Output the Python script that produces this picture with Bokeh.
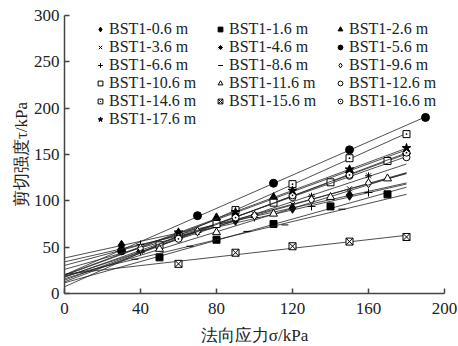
import numpy as np
from bokeh.plotting import figure
from bokeh.models import Range1d, Legend, LegendItem, FixedTicker
from bokeh.embed import file_html
from bokeh.resources import INLINE

# ---- data ----
labels = ["BST1-0.6 m", "BST1-1.6 m", "BST1-2.6 m", "BST1-3.6 m", "BST1-4.6 m", "BST1-5.6 m",
          "BST1-6.6 m", "BST1-8.6 m", "BST1-9.6 m", "BST1-10.6 m", "BST1-11.6 m", "BST1-12.6 m",
          "BST1-14.6 m", "BST1-15.6 m", "BST1-16.6 m", "BST1-17.6 m"]

sigma_06 = [30, 60, 90, 120, 150];   tau_06 = [52, 65, 79, 92, 106]
sigma_16 = [50, 80, 110, 140, 170];  tau_16 = [39, 58, 75, 94, 107]
sigma_26 = [40, 80, 110, 150, 180];  tau_26 = [47, 82, 104, 133, 153]
sigma_36 = [30, 60, 90, 120, 150];   tau_36 = [47, 63, 80, 96, 113]
sigma_46 = [40, 70, 100, 130, 160];  tau_46 = [45, 66, 85, 105, 127]
sigma_56 = [30, 70, 110, 150, 190];  tau_56 = [46, 84, 119, 155, 190]
sigma_66 = [40, 70, 100, 130, 160];  tau_66 = [53, 66, 82, 94, 109]
sigma_86 = [37, 66, 96, 116, 146];   tau_86 = [37, 51, 67, 74, 91]
sigma_96 = [40, 70, 100, 130, 160];  tau_96 = [49, 67, 84, 101, 119]
sigma_106 = [50, 80, 110, 140, 170]; tau_106 = [52, 75, 98, 120, 143]
sigma_116 = [50, 80, 110, 140, 170]; tau_116 = [48, 66, 86, 104, 124]
sigma_126 = [60, 90, 120, 150, 180]; tau_126 = [60, 84, 104, 127, 147]
sigma_146 = [60, 90, 120, 150, 180]; tau_146 = [62, 90, 118, 146, 172]
sigma_156 = [60, 90, 120, 150, 180]; tau_156 = [32, 44, 51, 56, 61]
sigma_166 = [60, 90, 120, 150, 180]; tau_166 = [59, 82, 106, 128, 152]
sigma_176 = [60, 90, 120, 150, 180]; tau_176 = [66, 88, 111, 134, 157]

sigmas = [sigma_06, sigma_16, sigma_26, sigma_36, sigma_46, sigma_56, sigma_66, sigma_86,
          sigma_96, sigma_106, sigma_116, sigma_126, sigma_146, sigma_156, sigma_166, sigma_176]
taus = [tau_06, tau_16, tau_26, tau_36, tau_46, tau_56, tau_66, tau_86,
        tau_96, tau_106, tau_116, tau_126, tau_146, tau_156, tau_166, tau_176]

x_ticks = [0, 40, 80, 120, 160, 200]
y_ticks = [0, 50, 100, 150, 200, 250, 300]

# ---- styles ----
# (marker, fill, size)
styles = [("diamond", "black", 10), ("square", "black", 7), ("triangle", "black", 8),
          ("x", "black", 7), ("asterisk", "black", 7), ("circle", "black", 8),
          ("cross", "black", 8), ("dash", "black", 7), ("diamond", "white", 9),
          ("square", "white", 7), ("triangle", "white", 8), ("circle", "white", 7),
          ("square_dot", "white", 7), ("square_x", "white", 7), ("circle_dot", "white", 7),
          ("star", "black", 9)]

SERIF = "'Liberation Serif', 'Times New Roman', serif"

p = figure(frame_width=380, frame_height=278, output_backend="svg", toolbar_location=None,
           x_range=Range1d(0, 200), y_range=Range1d(0, 300),
           min_border_left=64, min_border_right=14, min_border_top=15, min_border_bottom=53)
p.outline_line_color = None
p.xgrid.visible = False
p.ygrid.visible = False
p.background_fill_color = "white"
p.border_fill_color = "white"

items = []
for lab, s, t, (mk, fill, sz) in zip(labels, sigmas, taus, styles):
    s_arr = np.array(s, dtype=float)
    t_arr = np.array(t, dtype=float)
    b, a = np.polyfit(s_arr, t_arr, 1)
    x_end = max(180.0, s_arr.max())
    xs = np.array([0.0, x_end])
    p.line(xs, a + b * xs, line_color="#222222", line_width=0.8)
    r = p.scatter(s_arr, t_arr, marker=mk, size=sz, fill_color=fill, line_color="black", line_width=1)
    items.append(LegendItem(label=lab, renderers=[r]))

legend = Legend(items=items, orientation="horizontal", ncols=3, location=(30, 165),
                label_text_font=SERIF, label_text_font_size="16px", label_text_color="#222222",
                glyph_width=12, glyph_height=12, label_standoff=3, spacing=0,
                padding=0, margin=0, label_height=18, label_width=105,
                border_line_alpha=0, background_fill_alpha=0)
p.add_layout(legend, "center")

for ax in (p.xaxis[0], p.yaxis[0]):
    ax.axis_line_color = "#444444"
    ax.axis_line_width = 1.5
    ax.major_tick_line_color = "#444444"
    ax.major_tick_line_width = 1.5
    ax.major_tick_in = 5
    ax.major_tick_out = 0
    ax.minor_tick_line_color = None
    ax.major_label_text_font = SERIF
    ax.major_label_text_font_size = "17px"
    ax.major_label_text_color = "#222222"
    ax.axis_label_text_font = SERIF
    ax.axis_label_text_font_size = "17px"
    ax.axis_label_text_font_style = "normal"
    ax.axis_label_text_color = "#222222"

p.xaxis.ticker = FixedTicker(ticks=x_ticks)
p.yaxis.ticker = FixedTicker(ticks=y_ticks)
p.xaxis.axis_label = "法向应力σ/kPa"
p.yaxis.axis_label = "剪切强度τ/kPa"
p.xaxis.major_label_standoff = 9
p.yaxis.major_label_standoff = 5
p.xaxis.axis_label_standoff = 9
p.yaxis.axis_label_standoff = 0

open("out.html", "w").write(file_html(p, INLINE))
